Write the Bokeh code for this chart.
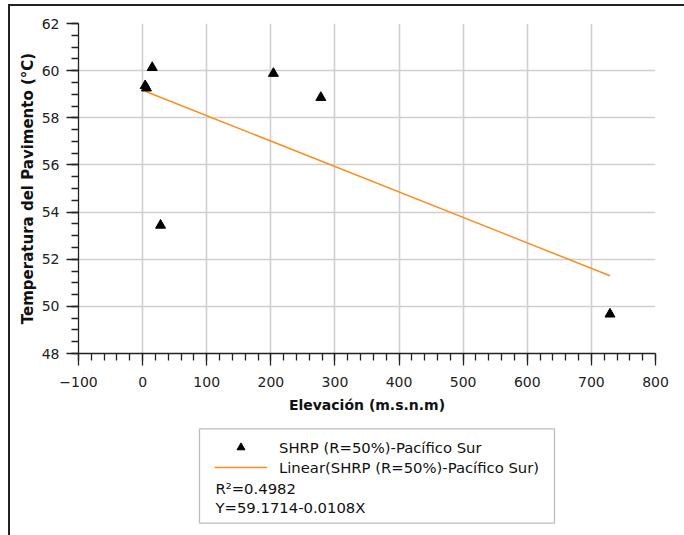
from bokeh.plotting import figure
from bokeh.layouts import column
from bokeh.models import (SingleIntervalTicker, FixedTicker, Legend, LegendItem,
                          Label, BoxAnnotation, ColumnDataSource, Range1d)
from bokeh.embed import file_html
from bokeh.resources import INLINE

# ---- data ----
elevation = [4, 6, 15, 28, 204, 278, 729]
temperature = [59.36, 59.26, 60.13, 53.44, 59.88, 58.86, 49.67]
intercept = 59.1714
slope = -0.0108
r2 = 0.4982
series_name = "SHRP (R=50%)-Pacífico Sur"
fit_name = "Linear(SHRP (R=50%)-Pacífico Sur)"
x_title = "Elevación (m.s.n.m)"
y_title = "Temperatura del Pavimento (°C)"

FONT = "DejaVu Sans"
DARK = "#222222"
ORANGE = "#ff8c1a"

src = ColumnDataSource(dict(x=elevation, y=temperature))
x_fit = [min(elevation), max(elevation)]
y_fit = [intercept + slope * x for x in x_fit]

# ---------------- main chart ----------------
p = figure(width=674, height=414, output_backend="svg", toolbar_location=None,
           x_range=(-100, 800), y_range=(48, 62),
           min_border_left=68, min_border_right=29, min_border_top=17,
           min_border_bottom=67)
p.outline_line_color = None
p.background_fill_color = "white"
p.border_fill_color = "white"

p.xaxis.ticker = SingleIntervalTicker(interval=100, num_minor_ticks=5)
p.yaxis.ticker = SingleIntervalTicker(interval=2, num_minor_ticks=4)
for ax in (p.xaxis[0], p.yaxis[0]):
    ax.axis_line_color = DARK
    ax.axis_line_width = 1.3
    ax.major_tick_line_color = DARK
    ax.minor_tick_line_color = DARK
    ax.major_tick_line_width = 1.3
    ax.minor_tick_line_width = 1.3
    ax.major_tick_in = 0
    ax.minor_tick_in = 0
    ax.major_tick_out = 12
    ax.minor_tick_out = 7
    ax.major_label_text_font = FONT
    ax.major_label_text_font_size = "14px"
    ax.major_label_text_color = DARK
    ax.axis_label_text_font = FONT
    ax.axis_label_text_font_style = "bold"
    ax.axis_label_text_color = "#111111"
p.xaxis.axis_label = x_title
p.yaxis.axis_label = y_title
p.xaxis.axis_label_text_font_size = "14px"
p.yaxis.axis_label_text_font_size = "15px"
p.xaxis.major_label_standoff = 11
p.yaxis.major_label_standoff = 7
p.xaxis.axis_label_standoff = 7
p.yaxis.axis_label_standoff = 2
p.xaxis.major_label_overrides = {v: str(v).replace("-", "\u2212") for v in range(-100, 900, 100)}

p.xgrid.ticker = FixedTicker(ticks=list(range(0, 800, 100)))
p.ygrid.ticker = FixedTicker(ticks=list(range(50, 62, 2)))
p.xgrid.grid_line_color = "#d0d0d0"
p.ygrid.grid_line_color = "#d0d0d0"
p.xgrid.grid_line_width = 1.6
p.ygrid.grid_line_width = 1.6

p.line(x_fit, y_fit, line_color=ORANGE, line_width=1.5)
p.scatter("x", "y", source=src, marker="triangle", size=10,
          fill_color="black", line_color="black")

# ---------------- legend panel ----------------
leg = figure(width=674, height=115, output_backend="svg", toolbar_location=None,
             x_range=Range1d(0, 1), y_range=Range1d(0, 1),
             min_border_left=68, min_border_right=29, min_border_top=0,
             min_border_bottom=0)
leg.axis.visible = False
leg.grid.visible = False
leg.outline_line_color = None
leg.background_fill_color = "white"
leg.border_fill_color = "white"

# same data, outside this panel's view: only their legend glyphs are shown
r_pts = leg.scatter("x", "y", source=src, marker="triangle", size=10,
                    fill_color="black", line_color="black")
r_fit = leg.line(x_fit, y_fit, line_color=ORANGE, line_width=1.5)

leg.add_layout(BoxAnnotation(left=121, right=476, top=106.7, bottom=12.3,
                             left_units="screen", right_units="screen",
                             top_units="screen", bottom_units="screen",
                             fill_color="white", fill_alpha=1.0,
                             line_color=DARK, line_width=1.3))

legend = Legend(items=[LegendItem(label=series_name, renderers=[r_pts]),
                       LegendItem(label=fit_name, renderers=[r_fit])],
                location=(136, 58), padding=0, margin=0, spacing=0,
                glyph_width=53, glyph_height=20, label_height=20,
                label_standoff=12, border_line_color=None,
                background_fill_alpha=0,
                label_text_font=FONT, label_text_font_size="14.8px",
                label_text_color="#111111")
leg.add_layout(legend, "center")

for txt, yy in ((f"R\u00b2={r2}", 47), (f"Y={intercept}{slope}X", 27.7)):
    leg.add_layout(Label(x=137, y=yy, x_units="screen", y_units="screen", text=txt,
                         text_font=FONT, text_font_size="14.8px", text_color="#111111",
                         text_baseline="middle"))

layout = column(p, leg, spacing=0,
                styles={"border-left": "2px solid #222222",
                        "border-top": "2px solid #222222",
                        "margin-left": "8px", "margin-top": "4px"})
open("out.html", "w").write(file_html(layout, INLINE))
